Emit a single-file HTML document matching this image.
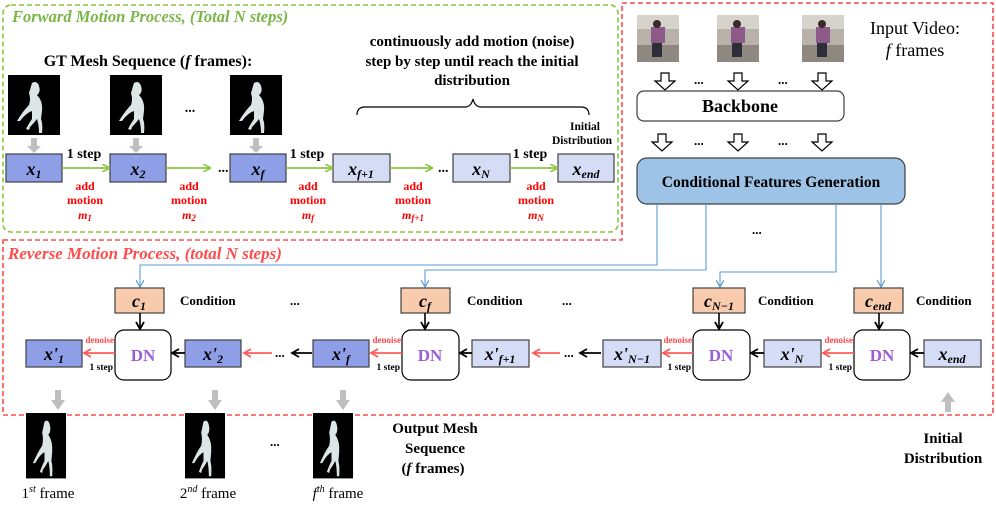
<!DOCTYPE html>
<html><head><meta charset="utf-8"><style>
html,body{margin:0;padding:0;background:#fff;}
svg{display:block;}
text{font-family:"Liberation Serif",serif;}
.b{font-weight:bold;}
.m{font-weight:bold;font-style:italic;}
</style></head><body>
<svg width="996" height="506" viewBox="0 0 996 506" xmlns="http://www.w3.org/2000/svg">
<defs>
<marker id="ag" markerWidth="8" markerHeight="8" refX="7" refY="4" orient="auto" markerUnits="userSpaceOnUse"><path d="M0,0 L8,4 L0,8" fill="none" stroke="#8cc63f" stroke-width="1.6"/></marker>
<marker id="ar" markerWidth="10" markerHeight="10" refX="8" refY="5" orient="auto" markerUnits="userSpaceOnUse"><path d="M1,1 L8,5 L1,9" fill="none" stroke="#ff5b5b" stroke-width="1.8"/></marker>
<marker id="ak" markerWidth="10" markerHeight="10" refX="8" refY="5" orient="auto" markerUnits="userSpaceOnUse"><path d="M1,1 L8,5 L1,9" fill="none" stroke="#000" stroke-width="1.8"/></marker>
<marker id="ab" markerWidth="8" markerHeight="8" refX="7" refY="4" orient="auto" markerUnits="userSpaceOnUse"><path d="M0,0 L7,4 L0,8" fill="none" stroke="#5b9bd5" stroke-width="1.2"/></marker>
<g id="mesh">
<rect x="0" y="0" width="52" height="60" fill="#000"/>
<path d="M24,8 q5,-3 7,3 q2,6 -2,9 q6,6 5,16 l-1,8 q2,5 1,14 l-3,0 q0,-8 -2,-14 q-3,4 -7,8 l-1,3 l-3,-1 q3,-6 6,-10 l0,-8 q-6,2 -12,10 l-3,0 q6,-10 12,-16 q2,-6 0,-12 z" fill="#dde6e6"/>
</g>
<g id="gd"><path d="M-3,0 h6 v8 h4 l-7,7 l-7,-7 h4 z" fill="#bfbfbf"/></g>
<g id="ho"><path d="M-4,0 h8 v8 h6 l-10,9 l-10,-9 h6 z" fill="#fff" stroke="#000" stroke-width="1.2"/></g>
<g id="vid">
<rect x="0" y="0" width="42" height="47" fill="#b9b2aa"/>
<rect x="0" y="0" width="42" height="14" fill="#d6d2cc"/>
<rect x="0" y="30" width="42" height="17" fill="#8f8880"/>
<rect x="14" y="12" width="14" height="16" fill="#8e5a8a"/>
<rect x="15" y="28" width="10" height="14" fill="#2e2e3a"/>
<circle cx="20" cy="9" r="4" fill="#3a2a2a"/>
</g>
</defs>

<rect x="3" y="5" width="615" height="227" rx="8" fill="none" stroke="#8cc63f" stroke-width="1.6" stroke-dasharray="5,3"/>
<path d="M3,240 H622 V3 H993 V415 H3 Z" fill="none" stroke="#ff4b4b" stroke-width="1.6" stroke-dasharray="5,3"/>

<text x="12" y="22" class="m" font-size="16.5" fill="#7ab648">Forward Motion Process, (Total N steps)</text>
<text x="148" y="66" class="b" font-size="16" text-anchor="middle">GT Mesh Sequence (<tspan font-style="italic">f</tspan> frames):</text>
<text x="472" y="46" class="b" font-size="15" text-anchor="middle">continuously add motion (noise)</text>
<text x="472" y="66" class="b" font-size="15" text-anchor="middle">step by step until reach the initial</text>
<text x="472" y="85" class="b" font-size="15" text-anchor="middle">distribution</text>
<path d="M357,115 q0,-8 8,-8 h100 q6,0 8,-8 q2,8 8,8 h100 q8,0 8,8" fill="none" stroke="#000" stroke-width="1.2"/>
<text x="585" y="130" class="b" font-size="11.5" text-anchor="middle">Initial</text>
<text x="582" y="144" class="b" font-size="11.5" text-anchor="middle">Distribution</text>

<use href="#mesh" x="8" y="75"/><use href="#mesh" x="110" y="75"/><use href="#mesh" x="230" y="75"/>
<text x="190" y="112" class="b" font-size="14" text-anchor="middle">...</text>
<use href="#gd" x="34" y="138"/><use href="#gd" x="136" y="138"/><use href="#gd" x="256" y="138"/>

<g stroke="#404040" stroke-width="1.2">
<rect x="6" y="154" width="56" height="28" fill="#8e9fe8"/>
<rect x="110" y="154" width="56" height="28" fill="#8e9fe8"/>
<rect x="230" y="154" width="56" height="28" fill="#8e9fe8"/>
<rect x="333" y="154" width="57" height="28" fill="#d5dcf6"/>
<rect x="453" y="154" width="57" height="28" fill="#d5dcf6"/>
<rect x="558" y="154" width="56" height="28" fill="#d5dcf6"/>
</g>
<g font-size="18" class="m" text-anchor="middle">
<text x="34" y="175">x<tspan font-size="12" dy="3">1</tspan></text>
<text x="138" y="175">x<tspan font-size="12" dy="3">2</tspan></text>
<text x="258" y="175">x<tspan font-size="12" dy="3">f</tspan></text>
<text x="361" y="175">x<tspan font-size="12" dy="3">f+1</tspan></text>
<text x="481" y="175">x<tspan font-size="12" dy="3">N</tspan></text>
<text x="586" y="175">x<tspan font-size="12" dy="3">end</tspan></text>
</g>
<g stroke="#8cc63f" stroke-width="1.8">
<line x1="62" y1="168" x2="109" y2="168" marker-end="url(#ag)"/>
<line x1="166" y1="168" x2="210" y2="168" marker-end="url(#ag)"/>
<line x1="286" y1="168" x2="332" y2="168" marker-end="url(#ag)"/>
<line x1="390" y1="168" x2="432" y2="168" marker-end="url(#ag)"/>
<line x1="510" y1="168" x2="557" y2="168" marker-end="url(#ag)"/>
</g>
<g class="b" font-size="14"><text x="218" y="172">...</text><text x="438" y="172">...</text></g>
<g class="b" font-size="14" text-anchor="middle"><text x="84" y="158">1 step</text><text x="307" y="158">1 step</text><text x="530" y="158">1 step</text></g>
<g class="b" font-size="12" fill="#ff0000" text-anchor="middle">
<text x="85" y="190">add</text><text x="85" y="204">motion</text><text x="85" y="219" font-style="italic">m<tspan font-size="9" dy="2">1</tspan></text>
<text x="189" y="190">add</text><text x="189" y="204">motion</text><text x="189" y="219" font-style="italic">m<tspan font-size="9" dy="2">2</tspan></text>
<text x="308" y="190">add</text><text x="308" y="204">motion</text><text x="308" y="219" font-style="italic">m<tspan font-size="9" dy="2">f</tspan></text>
<text x="413" y="190">add</text><text x="413" y="204">motion</text><text x="413" y="219" font-style="italic">m<tspan font-size="9" dy="2">f+1</tspan></text>
<text x="536" y="190">add</text><text x="536" y="204">motion</text><text x="536" y="219" font-style="italic">m<tspan font-size="9" dy="2">N</tspan></text>
</g>

<use href="#vid" x="637" y="15"/><use href="#vid" x="717" y="15"/><use href="#vid" x="802" y="15"/>
<text x="915" y="34" font-size="18" text-anchor="middle">Input Video:</text>
<text x="915" y="56" font-size="18" text-anchor="middle"><tspan font-style="italic">f</tspan>  frames</text>
<use href="#ho" x="665" y="73"/><use href="#ho" x="738" y="73"/><use href="#ho" x="822" y="73"/>
<g class="b" font-size="13"><text x="694" y="84">...</text><text x="778" y="84">...</text><text x="694" y="145">...</text><text x="778" y="145">...</text></g>
<rect x="637" y="91" width="207" height="30" rx="7" fill="#fff" stroke="#404040" stroke-width="1.2"/>
<text x="740" y="112" class="b" font-size="18" text-anchor="middle">Backbone</text>
<use href="#ho" x="662" y="134"/><use href="#ho" x="738" y="134"/><use href="#ho" x="822" y="134"/>
<rect x="637" y="158" width="268" height="46" rx="10" fill="#9dc3e6" stroke="#404040" stroke-width="1.2"/>
<text x="771" y="187" class="b" font-size="15.5" text-anchor="middle">Conditional Features Generation</text>
<text x="752" y="234" class="b" font-size="13">...</text>

<g fill="none" stroke="#5b9bd5" stroke-width="1.1">
<path d="M657,204 V265 H140 V287" marker-end="url(#ab)"/>
<path d="M706,204 V270 H425 V287" marker-end="url(#ab)"/>
<path d="M836,204 V272 H720 V287" marker-end="url(#ab)"/>
<path d="M881,204 V287" marker-end="url(#ab)"/>
</g>

<text x="8" y="259" class="m" font-size="17" fill="#ff4b4b" font-weight="normal">Reverse Motion Process, (total N steps)</text>

<g fill="#f8cbad" stroke="#404040" stroke-width="1.2">
<rect x="115" y="288" width="49" height="25"/><rect x="401" y="288" width="49" height="25"/><rect x="693" y="288" width="52" height="25"/><rect x="854" y="288" width="49" height="25"/>
</g>
<g class="m" font-size="18" text-anchor="middle">
<text x="139" y="307">c<tspan font-size="12" dy="3">1</tspan></text>
<text x="425" y="307">c<tspan font-size="12" dy="3">f</tspan></text>
<text x="719" y="307">c<tspan font-size="12" dy="3">N−1</tspan></text>
<text x="878" y="307">c<tspan font-size="12" dy="3">end</tspan></text>
</g>
<g class="b" font-size="13"><text x="180" y="305">Condition</text><text x="467" y="305">Condition</text><text x="758" y="305">Condition</text><text x="916" y="305">Condition</text><text x="290" y="305">...</text><text x="562" y="305">...</text></g>

<g fill="#fff" stroke="#000" stroke-width="1.2">
<rect x="115" y="330" width="56" height="50" rx="9"/><rect x="402" y="330" width="57" height="50" rx="9"/><rect x="693" y="330" width="57" height="50" rx="9"/><rect x="854" y="330" width="56" height="50" rx="9"/>
</g>
<g class="b" font-size="17" fill="#9a5fd8" text-anchor="middle"><text x="143" y="361">DN</text><text x="430" y="361">DN</text><text x="721" y="361">DN</text><text x="882" y="361">DN</text></g>
<g stroke="#000" stroke-width="1.6">
<line x1="140" y1="313" x2="140" y2="329" marker-end="url(#ak)"/><line x1="425" y1="313" x2="425" y2="329" marker-end="url(#ak)"/><line x1="719" y1="313" x2="719" y2="329" marker-end="url(#ak)"/><line x1="879" y1="313" x2="879" y2="329" marker-end="url(#ak)"/>
</g>

<g stroke="#404040" stroke-width="1.2">
<rect x="26" y="340" width="56" height="27" fill="#8e9fe8"/>
<rect x="185" y="340" width="56" height="27" fill="#8e9fe8"/>
<rect x="313" y="340" width="56" height="27" fill="#8e9fe8"/>
<rect x="472" y="340" width="57" height="27" fill="#d5dcf6"/>
<rect x="603" y="340" width="58" height="27" fill="#d5dcf6"/>
<rect x="764" y="340" width="57" height="27" fill="#d5dcf6"/>
<rect x="924" y="340" width="57" height="27" fill="#d5dcf6"/>
</g>
<g class="m" font-size="18" text-anchor="middle">
<text x="54" y="360">x'<tspan font-size="12" dy="3">1</tspan></text>
<text x="213" y="360">x'<tspan font-size="12" dy="3">2</tspan></text>
<text x="341" y="360">x'<tspan font-size="12" dy="3">f</tspan></text>
<text x="500" y="360">x'<tspan font-size="12" dy="3">f+1</tspan></text>
<text x="632" y="360">x'<tspan font-size="12" dy="3">N−1</tspan></text>
<text x="792" y="360">x'<tspan font-size="12" dy="3">N</tspan></text>
<text x="952" y="360">x<tspan font-size="12" dy="3">end</tspan></text>
</g>
<g stroke="#ff5b5b" stroke-width="1.8">
<line x1="115" y1="353" x2="84" y2="353" marker-end="url(#ar)"/>
<line x1="402" y1="353" x2="371" y2="353" marker-end="url(#ar)"/>
<line x1="693" y1="353" x2="663" y2="353" marker-end="url(#ar)"/>
<line x1="854" y1="353" x2="823" y2="353" marker-end="url(#ar)"/>
<line x1="272" y1="353" x2="244" y2="353" marker-end="url(#ar)"/>
<line x1="560" y1="353" x2="533" y2="353" marker-end="url(#ar)"/>
</g>
<g stroke="#000" stroke-width="1.8">
<line x1="185" y1="353" x2="172" y2="353" marker-end="url(#ak)"/>
<line x1="472" y1="353" x2="460" y2="353" marker-end="url(#ak)"/>
<line x1="764" y1="353" x2="751" y2="353" marker-end="url(#ak)"/>
<line x1="924" y1="353" x2="911" y2="353" marker-end="url(#ak)"/>
<line x1="312" y1="353" x2="292" y2="353" marker-end="url(#ak)"/>
<line x1="601" y1="353" x2="580" y2="353" marker-end="url(#ak)"/>
</g>
<g class="b" font-size="13"><text x="275" y="357">...</text><text x="564" y="357">...</text></g>
<g class="b" font-size="9" fill="#ff4b4b" text-anchor="end"><text x="114" y="343">denoise</text><text x="401" y="343">denoise</text><text x="692" y="343">denoise</text><text x="853" y="343">denoise</text></g>
<g class="b" font-size="9.5" text-anchor="end"><text x="113" y="370">1 step</text><text x="400" y="370">1 step</text><text x="691" y="370">1 step</text><text x="852" y="370">1 step</text></g>

<g fill="#bfbfbf">
<path d="M55,390 h6 v10 h4 l-7,10 l-7,-10 h4 z"/>
<path d="M212,390 h6 v10 h4 l-7,10 l-7,-10 h4 z"/>
<path d="M340,390 h6 v10 h4 l-7,10 l-7,-10 h4 z"/>
<path d="M945,412 h6 v-10 h4 l-7,-10 l-7,10 h4 z"/>
</g>
<g transform="translate(26,413) scale(0.77,1.09)"><use href="#mesh"/></g>
<g transform="translate(185,413) scale(0.77,1.09)"><use href="#mesh"/></g>
<g transform="translate(313,413) scale(0.77,1.09)"><use href="#mesh"/></g>
<text x="270" y="446" class="b" font-size="13">...</text>
<g class="b" font-size="15" text-anchor="middle"><text x="435" y="433">Output Mesh</text><text x="435" y="453">Sequence</text><text x="433" y="473">(<tspan font-style="italic">f</tspan> frames)</text>
<text x="943" y="443">Initial</text><text x="943" y="463">Distribution</text></g>
<g font-size="15" text-anchor="middle">
<text x="48" y="498">1<tspan font-size="10" dy="-6" font-style="italic">st</tspan><tspan dy="6"> frame</tspan></text>
<text x="208" y="498">2<tspan font-size="10" dy="-6" font-style="italic">nd</tspan><tspan dy="6"> frame</tspan></text>
<text x="338" y="498"><tspan font-style="italic">f</tspan><tspan font-size="10" dy="-6" font-style="italic">th</tspan><tspan dy="6"> frame</tspan></text>
</g>
</svg>
</body></html>
